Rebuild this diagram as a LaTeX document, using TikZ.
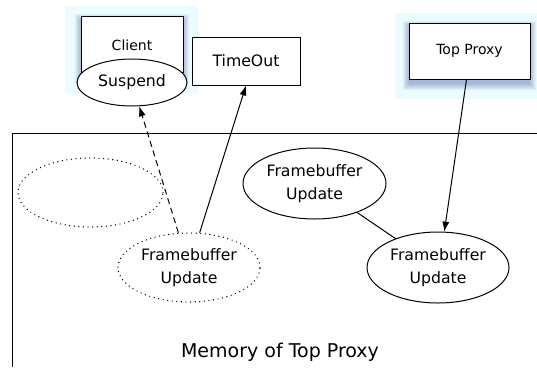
\documentclass[tikz,border=0pt]{standalone}
\usepackage{fontspec}
\setmainfont{DejaVu Sans}
\usetikzlibrary{arrows.meta,shapes.geometric}
\definecolor{bgcyan}{RGB}{236,251,255}
\definecolor{shadowblue}{RGB}{70,90,160}
\tikzset{
  base/.style={line width=1pt},
  txt/.style={font=\fontsize{15.7}{23}\selectfont, align=center},
  smalltxt/.style={font=\fontsize{14}{17}\selectfont},
  plainbox/.style={base, draw, fill=white, rectangle, inner sep=0pt, anchor=center},
  solidell/.style={base, draw, fill=white, ellipse, inner sep=0pt, txt},
  dotell/.style={line width=1.4pt, draw, ellipse, inner sep=0pt, txt, dash pattern=on 0pt off 4.6pt, line cap=round},
  bg/.style={fill=bgcyan, draw=none},
  shade/.style={fill=shadowblue, fill opacity=0.07, draw=none},
  arr/.style={base, -{Latex[length=10pt,width=7pt]}},
  dasharr/.style={arr, dash pattern=on 6pt off 4pt},
  link/.style={base},
  frame/.style={line width=1pt}
}
\begin{document}
\begin{tikzpicture}[x=1pt,y=-1pt]
\useasboundingbox (0,0) rectangle (537,367);
% backgrounds
\path[bg] (65,6) rectangle (198,93);
\path[bg] (395,13) rectangle (537,99);
% soft shadows
\foreach \i in {0,1,...,6}{
  \path[shade] (81-\i,20-\i) rectangle (183+\i,77+\i);
  \path[shade] (409-\i,27-\i) rectangle (530+\i,84+\i);
}
% memory frame
\coordinate (mtl) at (12,133);
\coordinate (mtr) at (537,133);
\coordinate (mbl) at (12,367);
\draw[frame] (mtr) -- (mtl) -- (mbl);
\node[txt, font=\fontsize{19}{23}\selectfont] (mem) at (280,352) {Memory of Top Proxy};
% boxes
\node[plainbox, minimum width=102pt, minimum height=56pt] (client) at (132,44) {};
\node[smalltxt] (clientlbl) at (132,45) {Client};
\node[plainbox, minimum width=108pt, minimum height=48pt, txt] (to) at (246,61) {TimeOut};
\node[plainbox, minimum width=121pt, minimum height=56pt, smalltxt] (tp) at (469.5,51) {Top Proxy};
% ellipses
\node[solidell, minimum width=110pt, minimum height=47pt] (sus) at (132,82.5) {Suspend};
\node[dotell, minimum width=145pt, minimum height=69pt] (e0) at (90.5,192.5) {};
\node[dotell, minimum width=142pt, minimum height=69pt] (fbd) at (189,267.5) {Framebuffer\\Update};
\node[solidell, minimum width=143pt, minimum height=71pt] (fbt) at (314.5,183.5) {Framebuffer\\Update};
\node[solidell, minimum width=142pt, minimum height=71pt] (fbb) at (438,267.5) {Framebuffer\\Update};
% connectors
\draw[dasharr] (fbd.107) -- (sus.-73);
\draw[arr] (fbd.73) -- (to.south);
\draw[link] (fbt) -- (fbb);
\draw[arr] ([xshift=-3pt]tp.south) -- (fbb.80);
\end{tikzpicture}
\end{document}
